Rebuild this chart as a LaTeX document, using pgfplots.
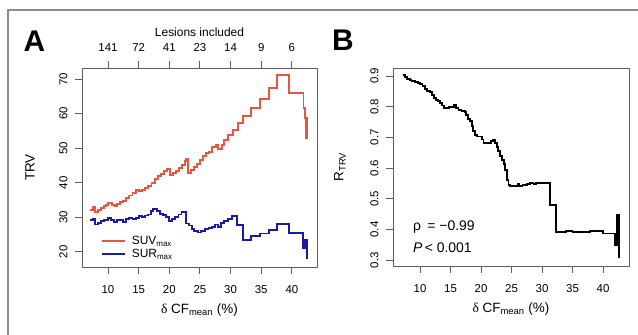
\documentclass[border=0pt]{standalone}
\usepackage{fontspec}
\setmainfont{Liberation Sans}
\newfontfamily\serifgr{Liberation Serif}
\usepackage{pgfplots}
\pgfplotsset{compat=1.18}
\definecolor{suvred}{RGB}{228,88,66}
\definecolor{surblue}{RGB}{26,26,165}
\definecolor{axgray}{RGB}{95,95,95}
\definecolor{framegray}{RGB}{140,140,140}
\pgfplotsset{
  rstyle/.style={
    scale only axis,
    axis line style={axgray, line width=0.9bp},
    every tick/.style={axgray, line width=0.9bp},
    tick align=outside,
    major tick length=7bp,
    ticklabel style={font=\fontsize{11.5}{13}\selectfont},
    /pgf/number format/assume math mode=true,
    label style={font=\fontsize{13.5}{16}\selectfont},
    xtick pos=bottom, ytick pos=left,
    yticklabel style={rotate=90, anchor=south},
    xticklabel shift=8bp, yticklabel shift=4bp,
    clip=false,
  }
}
\begin{document}
\begin{tikzpicture}
\path[use as bounding box] (0bp,0bp) rectangle (638bp,335bp);
\draw[framegray, line width=1.3bp] (8bp,0bp) -- (8bp,325bp) -- (638bp,325bp);
\node[font=\bfseries\fontsize{30}{30}\selectfont] at (34.5bp,294bp) {A};
\node[font=\bfseries\fontsize{30}{30}\selectfont] at (343bp,295bp) {B};

% Panel A
\begin{axis}[rstyle,
  at={(82bp,68bp)}, anchor=south west, width=235bp, height=199bp,
  xmin=5.76, xmax=44.1, ymin=15.6, ymax=73.2,
  xtick={10,15,...,40}, ytick={20,30,...,70},
  xlabel={{\serifgr δ} CF\textsubscript{mean} (\%)},
  ylabel={TRV},
  xlabel style={at={(axis description cs:0.5,-0.216)}, anchor=center},
  ylabel style={at={(axis description cs:-0.221,0.5)}, anchor=center},
  legend style={at={(axis description cs:0.067,0.02)}, anchor=south west,
    draw=none, fill=none, font=\fontsize{12}{14}\selectfont, row sep=-1bp},
  legend image code/.code={\draw[#1] (0bp,0bp) -- (23bp,0bp); \path (27bp,0bp);},
  legend cell align=left,
]
\addplot[const plot, suvred, line width=1.9bp] coordinates {
(7.1,32.1) (7.6,33.1) (7.9,31.6) (8.4,32.2) (8.9,32.8) (9.3,33.2) (9.7,33.6)
(10.0,34.2) (10.6,33.6) (11.1,33.2) (11.5,33.9) (12.0,34.4) (12.5,34.8)
(13.0,35.6) (13.5,36.3) (14.0,37.0) (14.6,37.9) (15.1,37.7) (15.6,38.0)
(16.1,38.4) (16.6,39.1) (17.1,40.0) (17.6,41.0) (18.1,41.9) (18.6,42.6)
(19.1,43.3) (19.6,43.9) (20.1,42.3) (20.6,42.7) (21.1,43.3) (21.6,44.3)
(22.1,45.2) (22.5,46.3) (22.8,46.9) (23.0,42.8) (23.5,43.7) (24.0,44.6)
(24.5,45.4) (25.0,46.7) (25.5,47.6) (26.0,48.5) (26.5,48.9) (27.0,50.4)
(27.6,50.9) (28.0,49.8) (28.6,51.0) (29.0,52.3) (29.6,53.8) (30.4,55.3)
(31.2,57.2) (32.1,59.4) (33.4,61.5) (34.8,64.1) (36.2,67.3) (37.6,71.1)
(39.6,65.9) (41.9,61.5) (42.2,58.6) (42.35,52.9) (42.4,58.6) (42.45,52.9)
(42.5,58.6) (42.55,52.9)
};
\addlegendentry{SUV\textsubscript{max}}
\addplot[const plot, surblue, line width=1.9bp] coordinates {
(7.1,29.2) (7.6,29.6) (7.9,27.9) (8.4,28.4) (8.9,28.8) (9.4,29.2) (10.0,29.8)
(10.5,29.1) (11.0,28.6) (11.5,29.3) (12.0,29.1) (12.4,28.7) (12.9,29.4)
(13.4,29.8) (14.0,29.5) (14.6,29.9) (15.1,30.3) (15.6,30.1) (16.1,30.5)
(16.6,30.8) (17.0,31.7) (17.4,32.4) (18.0,31.9) (18.5,31.0) (19.0,30.7)
(19.5,30.2) (19.9,28.9) (20.5,29.4) (21.0,30.0) (21.5,30.8) (22.0,31.6)
(22.8,28.2) (23.2,27.6) (23.7,26.6) (24.1,25.9) (24.7,25.6) (25.2,26.1)
(25.8,26.6) (26.4,27.0) (27.0,27.3) (27.5,27.9) (28.0,27.3) (28.5,28.4)
(29.0,28.9) (29.6,29.4) (30.2,30.4) (31.0,27.7) (32.1,23.5) (33.3,24.6)
(34.8,25.3) (36.2,26.4) (37.6,28.1) (39.6,25.4) (41.8,21.2) (42.15,23.5)
(42.5,17.9)
};
\addlegendentry{SUR\textsubscript{max}}
\end{axis}

% Panel A top axis
\begin{axis}[rstyle,
  at={(82bp,68bp)}, anchor=south west, width=235bp, height=199bp,
  xmin=5.76, xmax=44.1, ymin=15.6, ymax=73.2,
  axis x line*=top, axis y line=none,
  xtick pos=top, xticklabel shift=6bp,
  xtick={10,15,...,40}, xticklabels={141,72,41,23,14,9,6},
  xlabel={Lesions included},
  xlabel style={at={(axis description cs:0.5,1.181)}, anchor=center, font=\fontsize{12}{14}\selectfont},
]
\end{axis}

% Panel B
\begin{axis}[rstyle,
  at={(393bp,69bp)}, anchor=south west, width=236bp, height=198bp,
  xmin=5.57, xmax=44.26, ymin=0.281, ymax=0.926,
  xtick={10,15,...,40}, ytick={0.3,0.4,...,0.9},
  yticklabel style={/pgf/number format/.cd, fixed, precision=1, fixed zerofill},
  xlabel={{\serifgr δ} CF\textsubscript{mean} (\%)},
  ylabel={R\textsubscript{TRV}},
  xlabel style={at={(axis description cs:0.5,-0.217)}, anchor=center},
  ylabel style={at={(axis description cs:-0.225,0.5)}, anchor=center},
]
\addplot[const plot, black, line width=1.9bp] coordinates {
(7.2,0.903) (7.6,0.897) (7.8,0.889) (8.3,0.886) (8.6,0.883) (9.2,0.880)
(9.6,0.878) (10.0,0.873) (10.4,0.866) (10.8,0.858) (11.2,0.852) (11.6,0.847)
(12.0,0.838) (12.3,0.828) (12.6,0.822) (13.0,0.818) (13.3,0.812) (13.6,0.804)
(14.0,0.796) (14.4,0.794) (14.8,0.798) (15.2,0.800) (15.6,0.807) (15.9,0.797)
(16.3,0.790) (16.8,0.787) (17.3,0.782) (17.6,0.772) (17.9,0.760) (18.2,0.752)
(18.5,0.737) (18.7,0.722) (19.0,0.708) (19.4,0.703) (19.8,0.703) (20.1,0.693)
(20.4,0.681) (20.9,0.683) (21.3,0.682) (21.7,0.687) (22.0,0.691) (22.3,0.683)
(22.6,0.670) (22.8,0.656) (23.1,0.640) (23.4,0.625) (23.7,0.612) (24.0,0.595)
(24.2,0.561) (24.5,0.545) (24.8,0.541) (25.5,0.541) (26.0,0.548) (26.3,0.543)
(26.8,0.545) (27.5,0.548) (28.0,0.550) (28.6,0.548) (29.0,0.552) (29.7,0.551)
(30.3,0.552) (31.3,0.479) (32.3,0.392) (33.0,0.393) (34.0,0.396) (35.0,0.393)
(36.0,0.391) (37.3,0.391) (37.8,0.394) (39.0,0.394) (40.0,0.387) (42.0,0.349)
(42.25,0.447) (42.3,0.352) (42.35,0.447) (42.4,0.352) (42.45,0.447) (42.55,0.307)
};
\node[anchor=west, font=\fontsize{14}{16}\selectfont, inner sep=0pt] at (axis cs:8.85,0.408) {ρ\, = −0.99};
\node[anchor=west, font=\fontsize{14}{16}\selectfont, inner sep=0pt] at (axis cs:8.85,0.341) {\textit{P}\,< 0.001};
\end{axis}
\end{tikzpicture}
\end{document}
